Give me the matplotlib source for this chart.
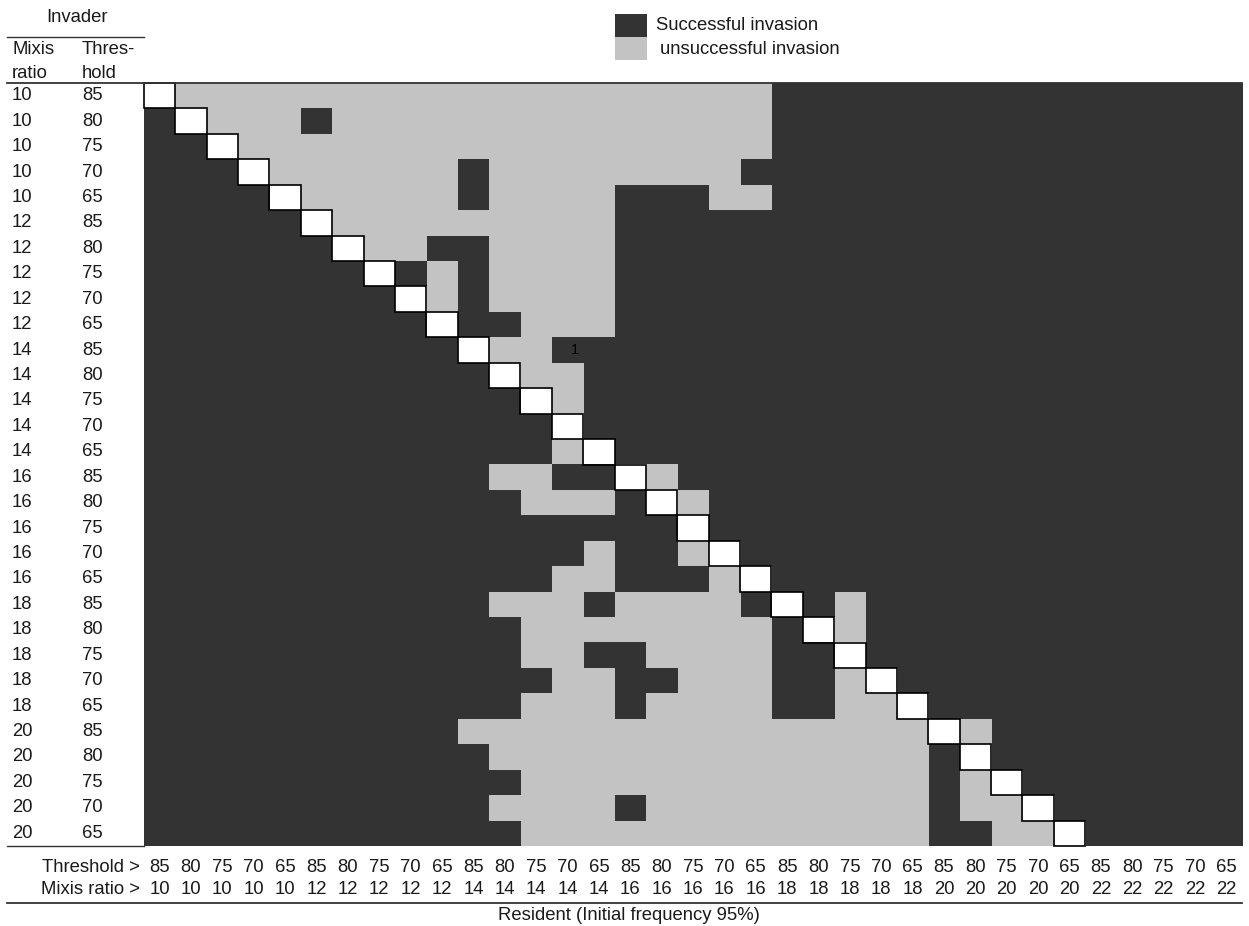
"""Invasion outcome matrix: invader strategy (rows) vs resident strategy (columns)."""
import numpy as np
import matplotlib

matplotlib.use("Agg")
import matplotlib.pyplot as plt  # noqa: E402
from matplotlib import transforms  # noqa: E402
from matplotlib.colors import ListedColormap  # noqa: E402
from matplotlib.lines import Line2D  # noqa: E402
from matplotlib.patches import Rectangle  # noqa: E402

# --- data ---------------------------------------------------------------------
INVADER_MIXIS = [10, 10, 10, 10, 10, 12, 12, 12, 12, 12, 14, 14, 14, 14, 14,
                 16, 16, 16, 16, 16, 18, 18, 18, 18, 18, 20, 20, 20, 20, 20]
INVADER_THRESHOLD = [85, 80, 75, 70, 65] * 6

RESIDENT_THRESHOLD = [85, 80, 75, 70, 65] * 7
RESIDENT_MIXIS = [10] * 5 + [12] * 5 + [14] * 5 + [16] * 5 + [18] * 5 + [20] * 5 + [22] * 5

# S = successful invasion, u = unsuccessful invasion, - = invader == resident
# columns grouped by five (resident mixis ratio 10, 12, ..., 22)
OUTCOME = [
    "-uuuu uuuuu uuuuu uuuuu SSSSS SSSSS SSSSS",
    "S-uuu Suuuu uuuuu uuuuu SSSSS SSSSS SSSSS",
    "SS-uu uuuuu uuuuu uuuuu SSSSS SSSSS SSSSS",
    "SSS-u uuuuu Suuuu uuuuS SSSSS SSSSS SSSSS",
    "SSSS- uuuuu Suuuu SSSuu SSSSS SSSSS SSSSS",
    "SSSSS -uuuu uuuuu SSSSS SSSSS SSSSS SSSSS",
    "SSSSS S-uuS Suuuu SSSSS SSSSS SSSSS SSSSS",
    "SSSSS SS-Su Suuuu SSSSS SSSSS SSSSS SSSSS",
    "SSSSS SSS-u Suuuu SSSSS SSSSS SSSSS SSSSS",
    "SSSSS SSSS- SSuuu SSSSS SSSSS SSSSS SSSSS",
    "SSSSS SSSSS -uuSS SSSSS SSSSS SSSSS SSSSS",
    "SSSSS SSSSS S-uuS SSSSS SSSSS SSSSS SSSSS",
    "SSSSS SSSSS SS-uS SSSSS SSSSS SSSSS SSSSS",
    "SSSSS SSSSS SSS-S SSSSS SSSSS SSSSS SSSSS",
    "SSSSS SSSSS SSSu- SSSSS SSSSS SSSSS SSSSS",
    "SSSSS SSSSS SuuSS -uSSS SSSSS SSSSS SSSSS",
    "SSSSS SSSSS SSuuu S-uSS SSSSS SSSSS SSSSS",
    "SSSSS SSSSS SSSSS SS-SS SSSSS SSSSS SSSSS",
    "SSSSS SSSSS SSSSu SSu-S SSSSS SSSSS SSSSS",
    "SSSSS SSSSS SSSuu SSSu- SSSSS SSSSS SSSSS",
    "SSSSS SSSSS SuuuS uuuuS -SuSS SSSSS SSSSS",
    "SSSSS SSSSS SSuuu uuuuu S-uSS SSSSS SSSSS",
    "SSSSS SSSSS SSuuS Suuuu SS-SS SSSSS SSSSS",
    "SSSSS SSSSS SSSuu SSuuu SSu-S SSSSS SSSSS",
    "SSSSS SSSSS SSuuu Suuuu SSuu- SSSSS SSSSS",
    "SSSSS SSSSS uuuuu uuuuu uuuuu -uSSS SSSSS",
    "SSSSS SSSSS Suuuu uuuuu uuuuu S-SSS SSSSS",
    "SSSSS SSSSS SSuuu uuuuu uuuuu Su-SS SSSSS",
    "SSSSS SSSSS Suuuu Suuuu uuuuu Suu-S SSSSS",
    "SSSSS SSSSS SSuuu uuuuu uuuuu SSuu- SSSSS",
]

# the lone cell note (row, column, text)
NOTE_ROW, NOTE_COL, NOTE_TEXT = 10, 13, "1"

# --- style ---------------------------------------------------------------------
W, H, DPI = 1249, 926, 100
DARK = "#333333"
LIGHT = "#c3c3c3"
TXT = "#1a1a1a"
FS = 18.5 * 72 / DPI  # ~18.5 px text
plt.rcParams["font.family"] = ["Liberation Sans", "DejaVu Sans"]

GRID_L, GRID_R, GRID_T, GRID_B = 144, 1242, 83, 846  # pixel box of the matrix
Y_THR, Y_MIX, Y_RULE, Y_RES = 867, 890, 903, 916     # rows under the matrix


def fx(px):
    return px / W


def fy(py):
    return 1 - py / H


def hline(fig, x0, x1, y, lw=1.0):
    fig.add_artist(Line2D([fx(x0), fx(x1)], [fy(y), fy(y)], transform=fig.transFigure,
                          color=DARK, lw=lw))


def main():
    codes = {"S": 0, "u": 1, "-": 2}
    mat = np.array([[codes[c] for c in row.replace(" ", "")] for row in OUTCOME])
    assert mat.shape == (len(INVADER_MIXIS), len(RESIDENT_MIXIS))

    fig = plt.figure(figsize=(W / DPI, H / DPI), dpi=DPI)
    ax = fig.add_axes([fx(GRID_L), fy(GRID_B), (GRID_R - GRID_L) / W, (GRID_B - GRID_T) / H])
    ax.imshow(mat, cmap=ListedColormap([DARK, LIGHT, "white"]), vmin=0, vmax=2,
              aspect="auto", interpolation="nearest")
    ax.set_axis_off()

    # self-vs-self cells: white squares with a black outline
    for i, j in zip(*np.where(mat == 2)):
        ax.add_patch(Rectangle((j - 0.5, i - 0.5), 1, 1, fill=False, ec="black",
                               lw=1.2, clip_on=False, zorder=3))

    ax.text(NOTE_COL + 0.25, NOTE_ROW, NOTE_TEXT, ha="center", va="center",
            fontsize=FS * 0.8, color="black")

    # invader labels on the left
    row_tr = transforms.blended_transform_factory(fig.transFigure, ax.transData)
    for i, (m, t) in enumerate(zip(INVADER_MIXIS, INVADER_THRESHOLD)):
        ax.text(fx(12), i, str(m), transform=row_tr, ha="left", va="center",
                fontsize=FS, color=TXT)
        ax.text(fx(82), i, str(t), transform=row_tr, ha="left", va="center",
                fontsize=FS, color=TXT)

    # resident labels underneath
    col_tr = transforms.blended_transform_factory(ax.transData, fig.transFigure)
    for j, (t, m) in enumerate(zip(RESIDENT_THRESHOLD, RESIDENT_MIXIS)):
        ax.text(j, fy(Y_THR), str(t), transform=col_tr, ha="center", va="center",
                fontsize=FS, color=TXT)
        ax.text(j, fy(Y_MIX), str(m), transform=col_tr, ha="center", va="center",
                fontsize=FS, color=TXT)
    fig.text(fx(140), fy(Y_THR), "Threshold >", ha="right", va="center", fontsize=FS, color=TXT)
    fig.text(fx(140), fy(Y_MIX), "Mixis ratio >", ha="right", va="center", fontsize=FS, color=TXT)
    fig.text(fx(629), fy(Y_RES), "Resident (Initial frequency 95%)",
             ha="center", va="center", fontsize=FS, color=TXT)

    # invader header
    fig.text(fx(77), fy(17), "Invader", ha="center", va="center", fontsize=FS, color=TXT)
    fig.text(fx(12), fy(49), "Mixis", ha="left", va="center", fontsize=FS, color=TXT)
    fig.text(fx(12), fy(73), "ratio", ha="left", va="center", fontsize=FS, color=TXT)
    fig.text(fx(82), fy(49), "Thres-", ha="left", va="center", fontsize=FS, color=TXT)
    fig.text(fx(82), fy(73), "hold", ha="left", va="center", fontsize=FS, color=TXT)

    # rules
    hline(fig, 7, GRID_L, 37)
    hline(fig, 7, GRID_R, GRID_T, lw=1.3)
    hline(fig, 7, GRID_L, GRID_B)
    hline(fig, 7, GRID_R, Y_RULE, lw=1.3)

    # legend
    for k, (col, lab, dx) in enumerate([(DARK, "Successful invasion", 656),
                                        (LIGHT, "unsuccessful invasion", 660)]):
        y0 = 14 + 23 * k
        fig.add_artist(Rectangle((fx(615), fy(y0 + 23)), 32 / W, 23 / H,
                                 transform=fig.transFigure, color=col, lw=0))
        fig.text(fx(dx), fy(y0 + 12), lab, ha="left", va="center", fontsize=FS, color=TXT)

    fig.savefig("out.png", dpi=DPI)


if __name__ == "__main__":
    main()
